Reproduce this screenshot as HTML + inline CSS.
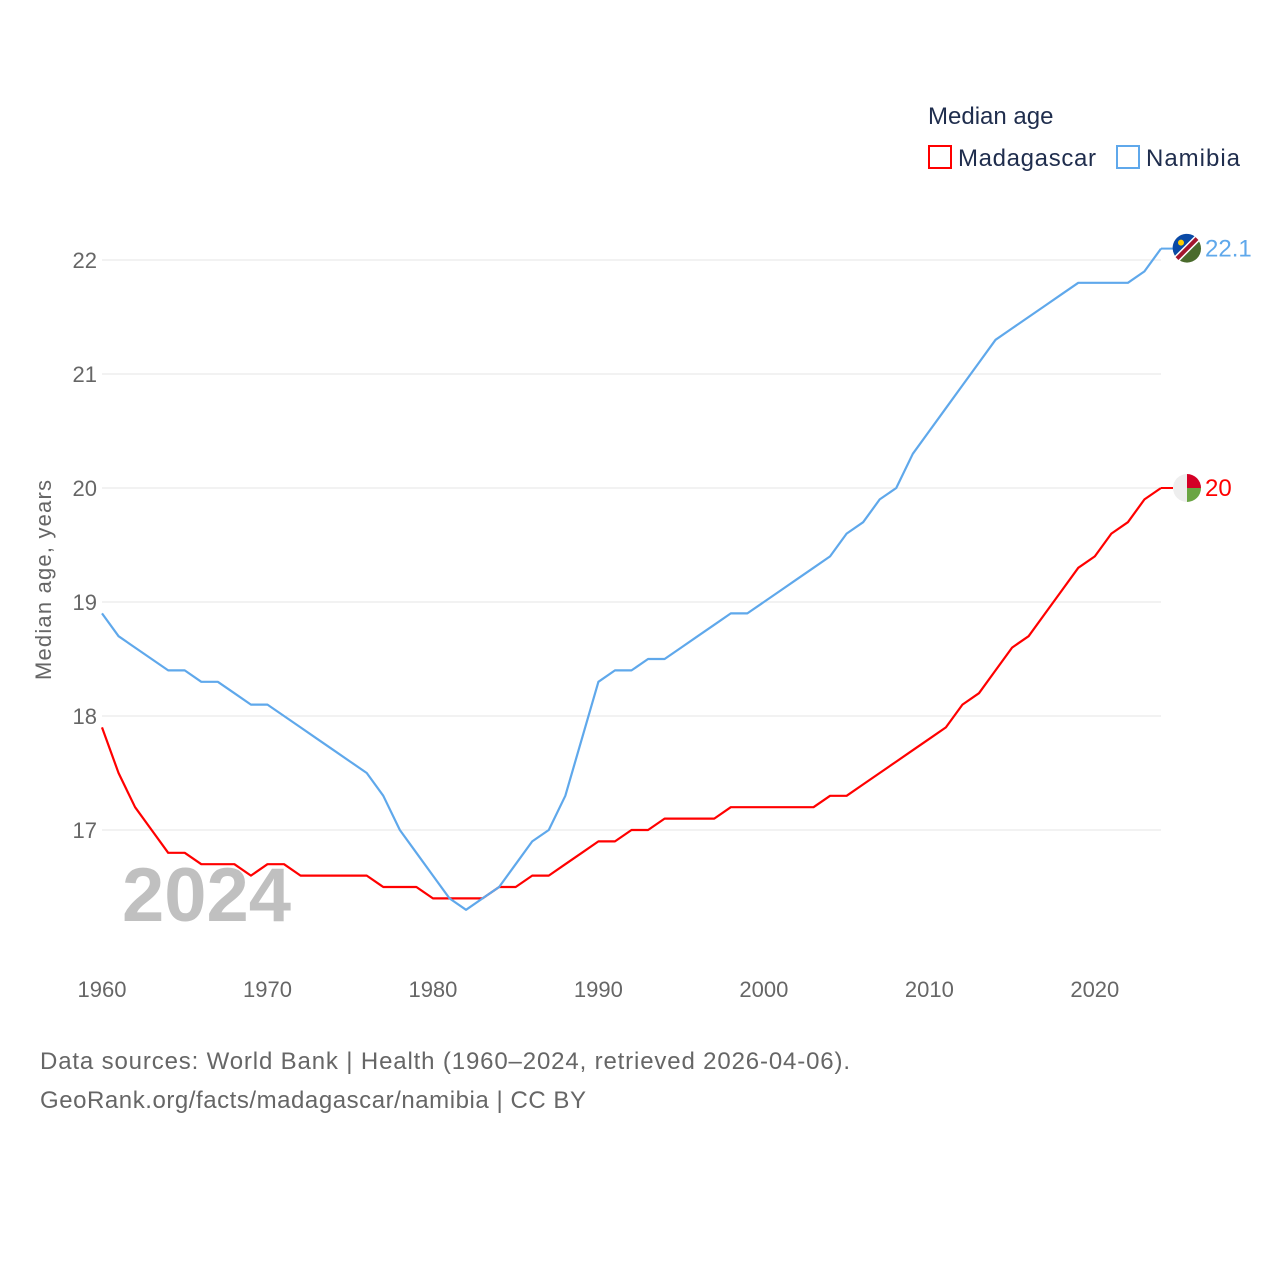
<!DOCTYPE html>
<html><head><meta charset="utf-8"><style>
body{margin:0;background:#fff;font-family:"Liberation Sans",sans-serif}
svg text{font-family:"Liberation Sans",sans-serif}
</style></head><body>
<svg id="c" width="1280" height="1280" xmlns="http://www.w3.org/2000/svg">
<text x="928" y="124" font-size="24" fill="#1f2d4d">Median age</text>
<g><rect x="929" y="146" width="22" height="22" fill="none" stroke="#f00" stroke-width="2"/><text x="958" y="166" font-size="24" fill="#1f2d4d" textLength="138">Madagascar</text></g>
<g><rect x="1117" y="146" width="22" height="22" fill="none" stroke="#5fa8eb" stroke-width="2"/><text x="1146" y="166" font-size="24" fill="#1f2d4d" textLength="94">Namibia</text></g>
<text transform="translate(51,580) rotate(-90)" text-anchor="middle" font-size="22" fill="#666" textLength="200">Median age, years</text>
<g id="grid"></g><g id="xt"></g>
<text x="122" y="921" font-size="76" font-weight="bold" fill="#c0c0c0">2024</text>
<g id="lines"></g>
<text x="40" y="1069" font-size="24" fill="#666" textLength="810">Data sources: World Bank | Health (1960–2024, retrieved 2026-04-06).</text>
<text x="40" y="1108" font-size="24" fill="#666" textLength="546">GeoRank.org/facts/madagascar/namibia | CC BY</text>
</svg>
<script>
const years=[];for(let y=1960;y<=2024;y++)years.push(y);
const yTicks=[17,18,19,20,21,22];
const xTicks=[1960,1970,1980,1990,2000,2010,2020];
const madagascar=[17.9,17.5,17.2,17.0,16.8,16.8,16.7,16.7,16.7,16.6,16.7,16.7,16.6,16.6,16.6,16.6,16.6,16.5,16.5,16.5,16.4,16.4,16.4,16.4,16.5,16.5,16.6,16.6,16.7,16.8,16.9,16.9,17.0,17.0,17.1,17.1,17.1,17.1,17.2,17.2,17.2,17.2,17.2,17.2,17.3,17.3,17.4,17.5,17.6,17.7,17.8,17.9,18.1,18.2,18.4,18.6,18.7,18.9,19.1,19.3,19.4,19.6,19.7,19.9,20.0];
const namibia=[18.9,18.7,18.6,18.5,18.4,18.4,18.3,18.3,18.2,18.1,18.1,18.0,17.9,17.8,17.7,17.6,17.5,17.3,17.0,16.8,16.6,16.4,16.3,16.4,16.5,16.7,16.9,17.0,17.3,17.8,18.3,18.4,18.4,18.5,18.5,18.6,18.7,18.8,18.9,18.9,19.0,19.1,19.2,19.3,19.4,19.6,19.7,19.9,20.0,20.3,20.5,20.7,20.9,21.1,21.3,21.4,21.5,21.6,21.7,21.8,21.8,21.8,21.8,21.9,22.1];
const NS="http://www.w3.org/2000/svg";
const X=y=>102+(y-1960)*(1161-102)/64;
const Y=v=>830-(v-17)*114;
function mk(t,a,p){const e=document.createElementNS(NS,t);for(const k in a)e.setAttribute(k,a[k]);p.appendChild(e);return e;}
const g=document.getElementById('grid');
yTicks.forEach(v=>{
 const l=mk('line',{x1:102,x2:1161,y1:Y(v),y2:Y(v),stroke:'#e6e6e6','stroke-width':1},g);
 
 
 const t=mk('text',{x:97,y:Y(v)+8,'text-anchor':'end','font-size':22,fill:'#666'},g);t.textContent=v;
 
 
});
const xt=document.getElementById('xt');
xTicks.forEach(v=>{
 const t=mk('text',{x:X(v),y:997,'text-anchor':'middle','font-size':22,fill:'#666'},xt);t.textContent=v;
 
 
});
const L=document.getElementById('lines');
function series(d,col,name,label){
 const p=mk('polyline',{points:d.map((v,i)=>X(years[i])+','+Y(v)).join(' '),fill:'none',stroke:col,'stroke-width':2.2,'stroke-linejoin':'round'},L);
 
 
 const lv=d[d.length-1],cx=X(years[years.length-1])+26,cy=Y(lv);
 mk('line',{x1:X(2024),x2:cx-14,y1:cy,y2:cy,stroke:col,'stroke-width':2},L);
 const f=mk('g',{},L);
 
 
 if(name==='madagascar'){
  mk('circle',{cx:cx,cy:cy,r:14,fill:'#eee'},f);
  mk('path',{d:`M${cx} ${cy} V${cy-14} A14 14 0 0 1 ${cx+14} ${cy} Z`,fill:'#d40026'},f);
  mk('path',{d:`M${cx} ${cy} H${cx+14} A14 14 0 0 1 ${cx} ${cy+14} Z`,fill:'#6aa543'},f);
 }else{
  mk('circle',{cx:cx,cy:cy,r:14,fill:'#4a6b2c'},f);
  mk('path',{d:`M${cx-12} ${cy+7} A14 14 0 0 1 ${cx+8} ${cy-12} Z`,fill:'#0a4aa6'},f);
  mk('line',{x1:cx-10,y1:cy+10,x2:cx+10,y2:cy-10,stroke:'#fff','stroke-width':7},f);
  mk('line',{x1:cx-10,y1:cy+10,x2:cx+10,y2:cy-10,stroke:'#a3162d','stroke-width':4},f);
  mk('circle',{cx:cx-6,cy:cy-6,r:3,fill:'#ffcd00'},f);
 }
 const t=mk('text',{x:cx+18,y:cy+8,'font-size':24,fill:col},L);t.textContent=label;
 
 
}
series(madagascar,'#ff0000','madagascar','20');
series(namibia,'#5fa8eb','namibia','22.1');
</script>
</body></html>
